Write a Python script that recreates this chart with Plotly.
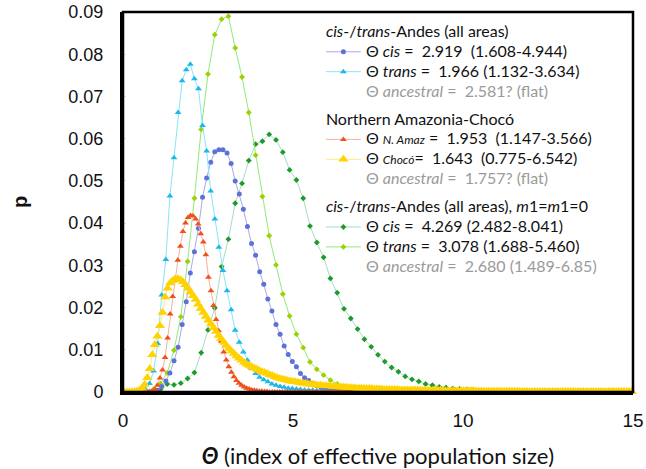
import numpy as np
import plotly.graph_objects as go

# ---- data ----
# sampling grids: start, step
grid_cistrans = (0.06, 0.12)     # blue / cyan
grid_m0 = (0.1, 0.2)             # dark green / light green
grid_amaz = (0.0375, 0.075)      # red / yellow

cis_p = [0, 0, 0, 0, 0, 0, 0, 0.0001,
         0.0004, 0.0013, 0.0026, 0.0045, 0.0074, 0.0106, 0.0160, 0.0214, 0.0282, 0.0332,
         0.0388, 0.0461, 0.0507, 0.0544, 0.0569, 0.0574, 0.0574, 0.0566, 0.0541, 0.0500,
         0.0469, 0.0433, 0.0392, 0.0352, 0.0324, 0.0285, 0.0255, 0.0220, 0.0192, 0.0160,
         0.0137, 0.0109, 0.0089, 0.0072, 0.0060, 0.0044, 0.0034, 0.0027, 0.0021, 0.0015,
         0.0011, 0.0008, 0.0006, 0.0004, 0.0003, 0.0002, 0.0001, 0.0001,
         0, 0, 0, 0, 0, 0, 0, 0, 0, 0, 0, 0, 0, 0, 0, 0, 0, 0, 0, 0, 0, 0, 0,
         0, 0, 0, 0, 0, 0, 0, 0, 0, 0, 0, 0, 0, 0, 0, 0, 0, 0, 0, 0, 0, 0, 0,
         0, 0, 0, 0, 0, 0, 0, 0, 0, 0, 0, 0, 0, 0, 0, 0, 0, 0, 0, 0, 0, 0, 0]

trans_p = [0, 0, 0, 0, 0.0001,
           0.0006, 0.0020, 0.0050, 0.0115, 0.0230, 0.0314, 0.0464, 0.0555, 0.0662, 0.0737,
           0.0763, 0.0776, 0.0742, 0.0718, 0.0631, 0.0571, 0.0476, 0.0410, 0.0343, 0.0288,
           0.0240, 0.0195, 0.0146, 0.0118, 0.0095, 0.0075, 0.0056, 0.0044, 0.0035, 0.0029,
           0.0024, 0.0019, 0.0016, 0.0013, 0.0011, 0.0009, 0.0008, 0.0007, 0.0006, 0.0005,
           0.0004, 0.0004, 0.0003, 0.0003, 0.0002, 0.0002, 0.0002, 0.0001, 0.0001, 0.0001,
           0, 0, 0, 0, 0, 0, 0, 0, 0, 0, 0, 0, 0, 0, 0, 0, 0, 0, 0, 0, 0, 0, 0,
           0, 0, 0, 0, 0, 0, 0, 0, 0, 0, 0, 0, 0, 0, 0, 0, 0, 0, 0, 0, 0, 0, 0,
           0, 0, 0, 0, 0, 0, 0, 0, 0, 0, 0, 0, 0, 0, 0, 0, 0, 0, 0, 0, 0, 0, 0, 0]

cis_m0_p = [0, 0, 0, 0, 0.0001, 0.0006, 0.0019, 0.0017, 0.0021, 0.0032,
            0.0046, 0.0093, 0.0147, 0.0199, 0.0297, 0.0362, 0.0447, 0.0494, 0.0548, 0.0587,
            0.0594, 0.0610, 0.0597, 0.0568, 0.0526, 0.0502, 0.0459, 0.0393, 0.0354, 0.0319,
            0.0269, 0.0235, 0.0197, 0.0174, 0.0149, 0.0125, 0.0107, 0.0088, 0.0072, 0.0058,
            0.0048, 0.0037, 0.0030, 0.0025, 0.0019, 0.0016, 0.0012, 0.0010, 0.0008, 0.0007,
            0.0006, 0.0005, 0.0003, 0.0002, 0.0001,
            0, 0, 0, 0, 0, 0, 0, 0, 0, 0, 0, 0, 0, 0, 0, 0, 0, 0, 0, 0]

trans_m0_p = [0, 0, 0, 0.0001, 0.0007, 0.0020, 0.0045, 0.0099, 0.0178, 0.0309,
              0.0459, 0.0622, 0.0753, 0.0846, 0.0883, 0.0890, 0.0815, 0.0746, 0.0662, 0.0561,
              0.0463, 0.0370, 0.0301, 0.0232, 0.0180, 0.0137, 0.0105, 0.0071, 0.0054, 0.0040,
              0.0028, 0.0019, 0.0013, 0.0009, 0.0006, 0.0004, 0.0003, 0.0002, 0.0001, 0.0001,
              0, 0, 0, 0, 0, 0, 0, 0, 0, 0, 0, 0, 0, 0, 0, 0, 0, 0, 0, 0,
              0, 0, 0, 0, 0, 0, 0, 0, 0, 0, 0, 0, 0, 0, 0]

namaz_p = [0, 0, 0, 0, 0, 0, 0, 0, 0, 0, 0.0001,
           0.0002, 0.0006, 0.0016, 0.0033, 0.0052, 0.0082, 0.0128, 0.0185, 0.0226,
           0.0270, 0.0312, 0.0345, 0.0380, 0.0400, 0.0413, 0.0418, 0.0417, 0.0410, 0.0398,
           0.0375, 0.0355, 0.0325, 0.0272, 0.0240, 0.0205, 0.0172, 0.0145, 0.0120, 0.0095,
           0.0076, 0.0060, 0.0047, 0.0036, 0.0027, 0.0021, 0.0016, 0.0012, 0.0009, 0.0007,
           0.0005, 0.0004, 0.0003, 0.0002, 0.0002, 0.0001, 0.0001,
           0, 0, 0, 0, 0, 0, 0, 0, 0, 0, 0, 0, 0, 0, 0, 0, 0, 0, 0, 0, 0, 0, 0,
           0, 0, 0, 0, 0, 0, 0, 0, 0, 0, 0, 0, 0, 0, 0, 0, 0, 0, 0, 0, 0, 0, 0]

choco_p = [0, 0, 0, 0, 0.0001, 0.0002, 0.0004, 0.0009, 0.0018, 0.0034,
           0.0055, 0.0088, 0.0112, 0.0132, 0.0157, 0.0188, 0.0225, 0.0246, 0.0258, 0.0264,
           0.0267, 0.0268, 0.0266, 0.0261, 0.0254, 0.0246, 0.0236, 0.0228, 0.0219, 0.0208,
           0.0198, 0.0188, 0.0179, 0.0170, 0.0161, 0.0152, 0.0143, 0.0134, 0.0126, 0.0118,
           0.0110, 0.0103, 0.0097, 0.0091, 0.0085, 0.0080, 0.0075, 0.0070, 0.0066, 0.0063,
           0.0060, 0.0056, 0.0054, 0.0051, 0.0048, 0.0046, 0.0044, 0.0041, 0.0039, 0.0036,
           0.0034, 0.0032, 0.0030, 0.0029, 0.0027, 0.0026, 0.0025, 0.0024, 0.0023, 0.0022,
           0.0021, 0.0020, 0.0019, 0.0018, 0.0018, 0.0017, 0.0016, 0.0016, 0.0015, 0.0015,
           0.0014, 0.0014, 0.0013, 0.0013, 0.0012, 0.0012, 0.0011, 0.0011, 0.0010, 0.0010,
           0.0010, 0.0009, 0.0009, 0.0009, 0.0008, 0.0008, 0.0008, 0.0008, 0.0007, 0.0007,
           0.0007, 0.0007, 0.0006, 0.0006, 0.0006, 0.0006, 0.0006, 0.0006, 0.0005, 0.0005,
           0.0005, 0.0005, 0.0005, 0.0005, 0.0005, 0.0005, 0.0004, 0.0004, 0.0004, 0.0004,
           0.0004, 0.0004, 0.0004, 0.0004, 0.0004, 0.0004, 0.0003, 0.0003, 0.0003, 0.0003,
           0.0003, 0.0003, 0.0003, 0.0003, 0.0003, 0.0003, 0.0003, 0.0003, 0.0002, 0.0002,
           0.0002, 0.0002, 0.0002, 0.0002, 0.0002, 0.0002, 0.0002, 0.0002, 0.0002, 0.0002,
           0.0002, 0.0002, 0.0002, 0.0002, 0.0002, 0.0002, 0.0001, 0.0001, 0.0001, 0.0001,
           0.0001, 0.0001, 0.0001, 0.0001, 0.0001, 0.0001, 0.0001, 0.0001, 0.0001, 0.0001,
           0.0001, 0.0001, 0.0001, 0.0001, 0.0001, 0.0001, 0.0001, 0.0001, 0.0001, 0.0001,
           0.0001, 0.0001, 0.0001, 0.0001, 0.0001, 0.0001, 0.0001, 0.0001, 0.0001, 0.0001,
           0.0001, 0.0001, 0.0001, 0.0001, 0.0001, 0.0001, 0.0001, 0.0001, 0.0001, 0.0001]

group_titles = ["<i>cis</i>-/<i>trans</i>-Andes (all areas)",
                "Northern Amazonia-Chocó",
                "<i>cis</i>-/<i>trans</i>-Andes (all areas), <i>m</i>1=<i>m</i>1=0"]

x_ticks = [0, 5, 10, 15]
y_ticks = [0, 0.01, 0.02, 0.03, 0.04, 0.05, 0.06, 0.07, 0.08, 0.09]
y_tick_text = ["0", "0.01", "0.02", "0.03", "0.04", "0.05", "0.06", "0.07", "0.08", "0.09"]

NB = "\u00a0"
labels = {
    "cis": f"Θ <i>cis</i>{NB}={NB} 2.919 {NB}(1.608-4.944)",
    "trans": f"Θ <i>trans</i> = {NB}1.966 (1.132-3.634)",
    "anc1": f"<span style='color:#9a9a9a'>Θ <i>ancestral</i> = {NB}2.581? (flat)</span>",
    "namaz": f"Θ <i><span style='font-size:12px'>N. Amaz</span></i> = {NB}1.953 {NB}(1.147-3.566)",
    "choco": f"Θ <i><span style='font-size:12px'>Chocó</span></i>= {NB}1.643 {NB}(0.775-6.542)",
    "anc2": f"<span style='color:#9a9a9a'>Θ <i>ancestral</i> = {NB}1.757? (flat)</span>",
    "cism0": f"Θ <i>cis</i>{NB}={NB} 4.269 (2.482-8.041)",
    "transm0": f"Θ <i>trans</i> = {NB}3.078 (1.688-5.460)",
    "anc3": f"<span style='color:#9a9a9a'>Θ <i>ancestral</i> = {NB}2.680 (1.489-6.85)</span>",
}


def big(s):
    return f"<span style='font-size:16px'>{s}</span>"


def grid(g, n):
    return np.round(g[0] + g[1] * np.arange(n), 4)


fig = go.Figure()

series = [
    ("cism0", cis_m0_p, grid_m0, "g3", 7, "#a6dcc4", "#1e9a2a", "diamond", 4.5),
    ("transm0", trans_m0_p, grid_m0, "g3", 8, "#8fea7a", "#9fd000", "diamond", 4.5),
    ("cis", cis_p, grid_cistrans, "g1", 1, "#a8ace6", "#5c72d8", "circle", 5),
    ("trans", trans_p, grid_cistrans, "g1", 2, "#86e6f8", "#1cb8ec", "triangle-up", 6),
    ("namaz", namaz_p, grid_amaz, "g2", 4, "#f7b0a0", "#f2501a", "triangle-up", 6),
    ("choco", choco_p, grid_amaz, "g2", 5, "#ffe88a", "#ffd200", "triangle-up", 9),
]
titles = {"g1": group_titles[0], "g2": group_titles[1], "g3": group_titles[2]}
title_done = set()
for key, y, g, grp, rank, lc, mc, sym, ms in series:
    kw = {}
    if grp not in title_done:
        kw["legendgrouptitle"] = dict(text=big(titles[grp]))
        title_done.add(grp)
    fig.add_trace(go.Scatter(
        x=grid(g, len(y)), y=y, mode="lines+markers", name=big(labels[key]),
        legendgroup=grp, legendrank=rank,
        line=dict(color=lc, width=1),
        marker=dict(color=mc, symbol=sym, size=ms, line=dict(width=0)),
        cliponaxis=False, **kw))

for key, grp, rank in [("anc1", "g1", 3), ("anc2", "g2", 6), ("anc3", "g3", 9)]:
    fig.add_trace(go.Scatter(x=[None], y=[None], mode="lines", name=big(labels[key]),
                             legendgroup=grp, legendrank=rank,
                             line=dict(color="rgba(0,0,0,0)", width=1)))

LEG_FONT = "Lato, Open Sans, sans-serif"
fig.update_layout(
    width=646, height=469,
    margin=dict(l=123, r=13, t=12, b=77, autoexpand=False),
    paper_bgcolor="white", plot_bgcolor="white",
    showlegend=True,
    legend=dict(x=0.388, y=0.987, xanchor="left", yanchor="top",
                bgcolor="rgba(0,0,0,0)", borderwidth=0,
                traceorder="grouped", tracegroupgap=8,
                itemclick=False, itemdoubleclick=False,
                font=dict(family=LEG_FONT, size=13, color="#111"),
                grouptitlefont=dict(family=LEG_FONT, size=13, color="#111"),
                itemwidth=35),
    xaxis=dict(range=[0, 15], tickvals=x_ticks, ticktext=[str(v) for v in x_ticks],
               automargin=False,
               showgrid=False, zeroline=False, showline=True, linecolor="black", linewidth=3,
               ticks="", ticklabelstandoff=9,
               tickfont=dict(family="Liberation Sans, Arial", size=19, color="#111"),
               title=dict(text="<b><i>Θ</i></b> (index of effective population size)",
                          font=dict(family="Lato, Open Sans, sans-serif", size=22, color="#111"),
                          standoff=20)),
    yaxis=dict(range=[0, 0.09], tickvals=y_ticks, ticktext=y_tick_text,
               automargin=False,
               showgrid=False, zeroline=False, showline=True, linecolor="black", linewidth=3,
               ticks="inside", ticklen=3, tickcolor="#dddddd", ticklabelstandoff=13,
               tickfont=dict(family="Liberation Sans, Arial", size=18, color="#111"),
               title=dict(text="<b>p</b>", font=dict(family="Liberation Sans, Arial", size=20, color="#111"),
                          standoff=36)),
    shapes=[dict(type="rect", xref="paper", yref="paper", x0=0, x1=1, y0=0, y1=1,
                 line=dict(color="black", width=2.5), fillcolor="rgba(0,0,0,0)", layer="above")],
)

fig.write_html("out.html")
